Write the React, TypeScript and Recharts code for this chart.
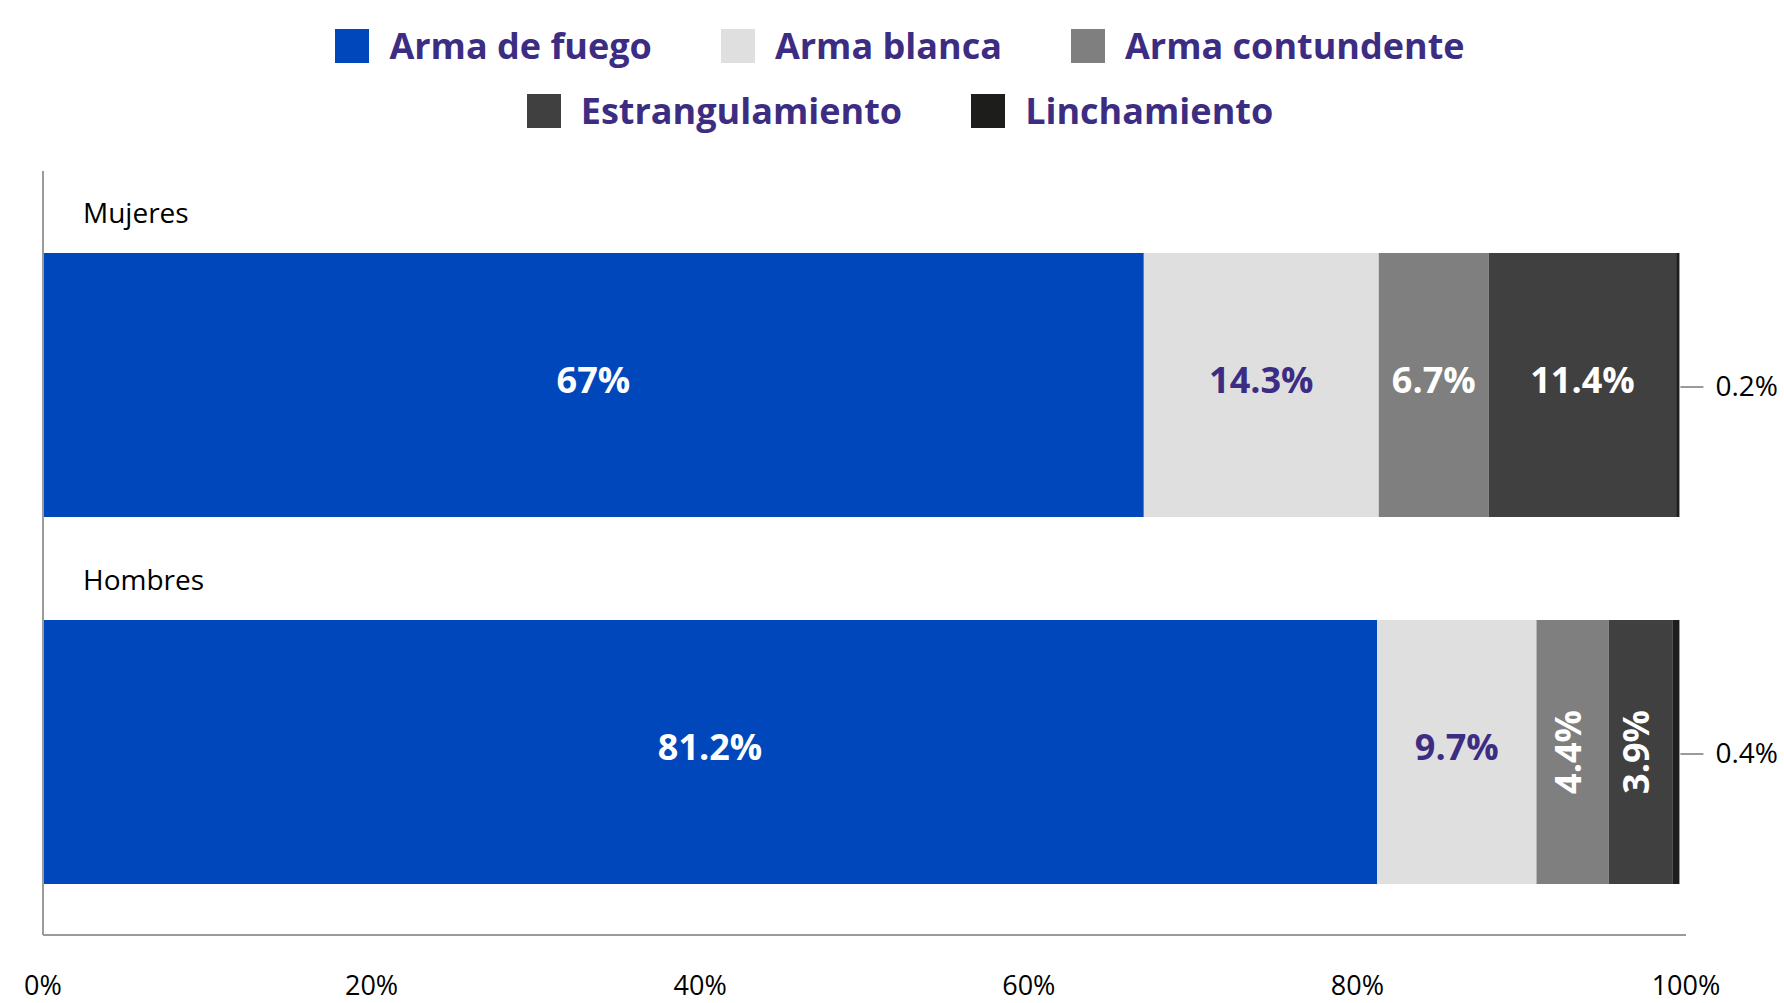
import React from 'react';
import { BarChart, Bar, XAxis, YAxis, Legend, LabelList } from 'recharts';

const categories = ['Mujeres', 'Hombres'];
const armaFuego = [67, 81.2];
const armaBlanca = [14.3, 9.7];
const armaContundente = [6.7, 4.4];
const estrangulamiento = [11.4, 3.9];
const linchamiento = [0.2, 0.4];
const xTicks = [0, 20, 40, 60, 80, 100];

const series = [
  { key: 'fuego', name: 'Arma de fuego', values: armaFuego, color: '#0047BB', text: '#FFFFFF' },
  { key: 'blanca', name: 'Arma blanca', values: armaBlanca, color: '#DFDFDF', text: '#3C2D83' },
  { key: 'contundente', name: 'Arma contundente', values: armaContundente, color: '#7F7F7F', text: '#FFFFFF' },
  { key: 'estrang', name: 'Estrangulamiento', values: estrangulamiento, color: '#404040', text: '#FFFFFF' },
  { key: 'linch', name: 'Linchamiento', values: linchamiento, color: '#1D1D1B', text: '#000000' },
];

const data = categories.map((name, i) => {
  const row: Record<string, any> = { name };
  series.forEach((s) => { row[s.key] = s.values[i]; });
  return row;
});

const FONT = '"Open Sans", "Noto Sans", sans-serif';
const PURPLE = '#3C2D83';
const AXIS_GRAY = '#9A9A9A';
const BAR_SIZE = 264;

const box = (props: any) => {
  const vb = props.viewBox && props.viewBox.width !== undefined ? props.viewBox : props;
  return { x: Number(vb.x), y: Number(vb.y), width: Number(vb.width), height: Number(vb.height) };
};

const makeInsideLabel = (color: string) => (props: any) => {
  const { x, y, width, height } = box(props);
  const value = props.value;
  const cx = x + width / 2;
  const cy = y + height / 2;
  const common = {
    fill: color,
    fontFamily: FONT,
    fontWeight: 700,
    fontSize: 36,
    textAnchor: 'middle' as const,
  };
  if (width < 85) {
    return (
      <text {...common} x={cx} y={cy + 8} transform={`rotate(-90 ${cx} ${cy})`}>
        {`${value}%`}
      </text>
    );
  }
  return (
    <text {...common} x={cx} y={cy + 8}>
      {`${value}%`}
    </text>
  );
};

const OutsideLabel = (props: any) => {
  const { x, y, width, height } = box(props);
  const value = props.value;
  const ex = x + width;
  const cy = y + height / 2;
  return (
    <g>
      <line x1={ex + 1} x2={ex + 24} y1={cy + 2} y2={cy + 2} stroke={AXIS_GRAY} strokeWidth={2} />
      <text x={ex + 36} y={cy + 11} fill="#000" fontFamily={FONT} fontSize={28} textAnchor="start">
        {`${value}%`}
      </text>
    </g>
  );
};

const CategoryTick = (props: any) => {
  const { y, payload } = props;
  return (
    <text x={83} y={y - BAR_SIZE / 2 - 30} fill="#000" fontFamily={FONT} fontSize={28} textAnchor="start">
      {payload.value}
    </text>
  );
};

const PercentTick = (props: any) => {
  const { x, y, payload } = props;
  return (
    <text x={x} y={y + 52} fill="#000" fontFamily={FONT} fontSize={27} textAnchor="middle">
      {`${payload.value}%`}
    </text>
  );
};

const LegendContent = () => {
  const rows = [series.slice(0, 3), series.slice(3)];
  return (
    <div
      style={{
        height: 171,
        boxSizing: 'border-box',
        paddingTop: 13,
        paddingLeft: 114,
        fontFamily: FONT,
      }}
    >
      {rows.map((row, ri) => (
        <div
          key={ri}
          style={{
            height: 65,
            display: 'flex',
            justifyContent: 'center',
            alignItems: 'center',
            gap: 69,
          }}
        >
          {row.map((s) => (
            <div key={s.key} style={{ display: 'flex', alignItems: 'center' }}>
              <div style={{ width: 34, height: 34, background: s.color, marginRight: 20 }} />
              <span style={{ color: PURPLE, fontWeight: 700, fontSize: 36, lineHeight: '40px', whiteSpace: 'nowrap' }}>
                {s.name}
              </span>
            </div>
          ))}
        </div>
      ))}
    </div>
  );
};

export default function App() {
  return (
    <div style={{ position: 'absolute', top: 0, left: 0, width: 1784, height: 1003, background: '#fff' }}>
      <BarChart
        width={1784}
        height={1003}
        data={data}
        layout="vertical"
        margin={{ top: 0, right: 98, bottom: 0, left: 0 }}
      >
        <Legend verticalAlign="top" align="center" content={<LegendContent />} />
        <XAxis
          type="number"
          domain={[0, 100]}
          ticks={xTicks}
          height={68}
          tickLine={false}
          axisLine={{ stroke: AXIS_GRAY, strokeWidth: 2 }}
          tick={<PercentTick />}
          interval={0}
        />
        <YAxis
          type="category"
          dataKey="name"
          width={43}
          padding={{ top: 30, bottom: 0 }}
          tickLine={false}
          axisLine={{ stroke: AXIS_GRAY, strokeWidth: 2 }}
          tick={<CategoryTick />}
        />
        {series.map((s) => (
          <Bar
            key={s.key}
            dataKey={s.key}
            name={s.name}
            stackId="a"
            fill={s.color}
            barSize={BAR_SIZE}
            isAnimationActive={false}
          >
            {s.key === 'linch' ? (
              <LabelList dataKey={s.key} content={OutsideLabel} />
            ) : (
              <LabelList dataKey={s.key} content={makeInsideLabel(s.text)} />
            )}
          </Bar>
        ))}
      </BarChart>
    </div>
  );
}
